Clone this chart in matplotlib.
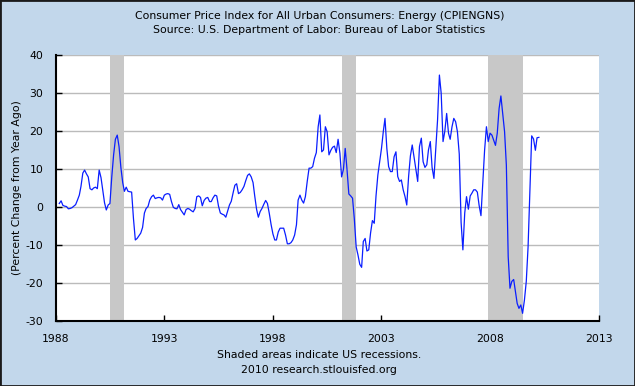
import matplotlib
matplotlib.use("Agg")
import matplotlib.pyplot as plt
from matplotlib.patches import Rectangle
import pandas as pd

# CPI Energy, percent change from year ago (monthly, starting Mar 1988)
yoy_1988 = [1.0, 1.7, 0.5, 0.3, 0.2, -0.4, -0.3, -0.1, 0.3, 0.7]
yoy_1989 = [1.9, 3.2, 5.5, 9.0, 9.8, 8.8, 8.0, 4.9, 4.6, 5.1, 5.3, 4.9]
yoy_1990 = [9.8, 7.8, 4.6, 1.2, -0.7, 0.6, 1.0, 8.0, 13.8, 17.9, 19.0, 16.0]
yoy_1991 = [10.5, 6.5, 4.2, 5.3, 4.2, 4.1, 4.0, -3.0, -8.6, -8.2, -7.5, -6.8]
yoy_1992 = [-5.3, -1.5, -0.3, 0.2, 1.9, 2.8, 3.2, 2.3, 2.5, 2.6, 2.5, 1.9]
yoy_1993 = [3.2, 3.5, 3.6, 3.4, 1.5, 0.0, -0.3, -0.4, 0.7, -0.6, -1.3, -2.0]
yoy_1994 = [-0.6, -0.3, -0.5, -0.9, -1.2, -0.3, 2.8, 3.0, 2.6, 0.4, 1.8, 2.4]
yoy_1995 = [2.6, 1.5, 1.5, 2.5, 3.2, 3.0, 0.3, -1.5, -1.8, -2.0, -2.6, -1.0]
yoy_1996 = [0.6, 1.6, 3.7, 5.8, 6.2, 3.6, 3.9, 4.6, 5.5, 7.0, 8.4, 8.8]
yoy_1997 = [8.0, 6.5, 3.0, -0.5, -2.6, -1.1, -0.3, 0.8, 1.8, 1.0, -1.6, -4.5]
yoy_1998 = [-7.0, -8.6, -8.6, -6.5, -5.5, -5.5, -5.5, -7.3, -9.6, -9.6, -9.3, -8.6]
yoy_1999 = [-7.3, -4.6, 1.9, 3.2, 1.9, 1.1, 2.8, 6.8, 10.3, 10.3, 10.7, 12.9]
yoy_2000 = [14.4, 21.2, 24.3, 14.6, 15.1, 21.2, 19.9, 13.8, 15.0, 15.8, 16.1, 14.4]
yoy_2001 = [17.9, 14.2, 8.0, 10.0, 15.5, 9.8, 3.5, 3.0, 2.4, -3.0, -10.4, -12.5]
yoy_2002 = [-15.0, -15.8, -9.0, -8.2, -11.5, -11.2, -6.8, -3.5, -4.2, 3.0, 8.5, 12.0]
yoy_2003 = [15.5, 20.0, 23.4, 15.5, 10.7, 9.4, 9.4, 13.3, 14.6, 8.1, 6.8, 7.2]
yoy_2004 = [4.6, 2.8, 0.6, 8.1, 13.5, 16.4, 13.3, 10.0, 6.8, 16.0, 18.2, 12.0]
yoy_2005 = [10.5, 11.2, 15.1, 17.3, 10.5, 7.6, 15.0, 23.0, 34.8, 30.0, 17.3, 20.0]
yoy_2006 = [24.7, 19.5, 17.9, 21.2, 23.4, 22.5, 19.9, 14.0, -4.0, -11.2, -1.5, 2.8]
yoy_2007 = [-0.5, 3.0, 3.7, 4.6, 4.6, 4.0, 0.5, -2.2, 6.5, 15.0, 21.2, 17.3]
yoy_2008 = [19.5, 19.0, 17.7, 16.3, 19.5, 26.0, 29.3, 24.7, 19.9, 11.1, -13.0, -21.3]
yoy_2009 = [-19.5, -19.0, -22.0, -25.3, -26.6, -25.7, -27.9, -24.4, -19.5, -10.5, 4.0, 18.8]
yoy_2010 = [18.0, 15.0, 18.3, 18.4]

recessions = [("1990-07-01", "1991-03-01"),
              ("2001-03-01", "2001-11-01"),
              ("2007-12-01", "2009-06-30")]

year_ticks = ["1988", "1993", "1998", "2003", "2008", "2013"]
y_ticks = [-30, -20, -10, 0, 10, 20, 30, 40]

values = (yoy_1988 + yoy_1989 + yoy_1990 + yoy_1991 + yoy_1992 + yoy_1993
          + yoy_1994 + yoy_1995 + yoy_1996 + yoy_1997 + yoy_1998 + yoy_1999
          + yoy_2000 + yoy_2001 + yoy_2002 + yoy_2003 + yoy_2004 + yoy_2005
          + yoy_2006 + yoy_2007 + yoy_2008 + yoy_2009 + yoy_2010)
dates = pd.date_range("1988-03-01", periods=len(values), freq="MS")
series = pd.Series(values, index=dates)

W, H = 635, 386
bg = "#C2D7EB"

fig = plt.figure(figsize=(W / 100, H / 100), dpi=100)
fig.patch.set_facecolor(bg)
ax = fig.add_axes([55.7 / W, 1 - 321.3 / H, (598.7 - 55.7) / W, (321.3 - 55.3) / H])
ax.set_facecolor("white")

for start, end in recessions:
    ax.axvspan(pd.Timestamp(start), pd.Timestamp(end), color="#C8C8C8", lw=0, zorder=1)

ax.plot(series.index, series.values, color="#0A1EFF", linewidth=0.9, zorder=3)

ax.set_xlim(pd.Timestamp("1988-01-01"), pd.Timestamp("2013-01-01"))
ax.set_ylim(-30, 40)
ax.set_xticks([pd.Timestamp(y + "-01-01") for y in year_ticks])
ax.set_xticklabels(year_ticks)
ax.set_yticks(y_ticks)
ax.set_yticklabels([str(v) for v in y_ticks])

ax.yaxis.grid(True, color="#BBBBBB", linewidth=1)
ax.set_axisbelow(True)
for side in ["top", "right"]:
    ax.spines[side].set_visible(False)
for side in ["left", "bottom"]:
    ax.spines[side].set_linewidth(1.5)
    ax.spines[side].set_color("black")
ax.tick_params(direction="in", length=4, width=1, labelsize=7.8, color="black", pad=9)

fs = 7.8
fig.text(17 / W, 0.5 - (188 - H / 2) / H, "(Percent Change from Year Ago)",
         rotation=90, ha="center", va="center", fontsize=fs)
fig.text(0.503, 1 - 16 / H, "Consumer Price Index for All Urban Consumers: Energy (CPIENGNS)",
         ha="center", va="center", fontsize=fs)
fig.text(0.503, 1 - 30 / H, "Source: U.S. Department of Labor: Bureau of Labor Statistics",
         ha="center", va="center", fontsize=fs)
fig.text(0.503, 1 - 355 / H, "Shaded areas indicate US recessions.",
         ha="center", va="center", fontsize=fs)
fig.text(0.503, 1 - 370 / H, "2010 research.stlouisfed.org",
         ha="center", va="center", fontsize=fs)

fig.add_artist(Rectangle((0, 0), 1, 1, transform=fig.transFigure, fill=False,
                         edgecolor="#1A1A1A", linewidth=2))

fig.savefig("out.png", dpi=100, facecolor=fig.get_facecolor())
